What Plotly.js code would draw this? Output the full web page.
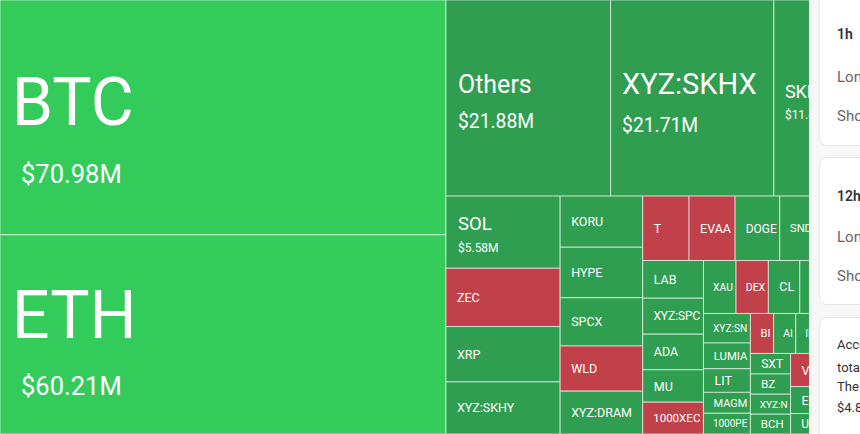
<!DOCTYPE html>
<html>
<head>
<meta charset="utf-8">
<script src="https://cdn.plot.ly/plotly-3.0.1.min.js"></script>
<style>
  html, body { margin:0; padding:0; background:#fff; overflow:hidden; }
  #wrap { position:relative; width:860px; height:434px; overflow:hidden; }
  #chart { position:absolute; left:0; top:0; width:860px; height:434px; }
  #side { position:absolute; left:809px; top:0; width:51px; height:434px; background:#f7f7f8; overflow:hidden; z-index:5; font-family:Roboto, "Noto Sans", sans-serif; }
  .card { position:absolute; left:10px; width:220px; background:#fff; border:1px solid #e8e8ea; border-radius:8px; }
  .t { position:absolute; left:17px; white-space:nowrap; line-height:1; }
  .h { font-size:14px; font-weight:600; color:#333; }
  .r { font-size:15px; color:#666; }
  .p { font-size:13px; color:#333; }
</style>
</head>
<body>
<div id="wrap">
  <div id="chart"></div>
  <div id="side">
    <div class="card" style="top:-12px;height:156px;">
      <div class="t h" style="top:38px;">1h</div>
      <div class="t r" style="top:81px;">Long</div>
      <div class="t r" style="top:120px;">Short</div>
    </div>
    <div class="card" style="top:157px;height:146px;">
      <div class="t h" style="top:31px;">12h</div>
      <div class="t r" style="top:72px;">Long</div>
      <div class="t r" style="top:111px;">Short</div>
    </div>
    <div class="card" style="top:317px;height:150px;">
      <div class="t p" style="top:20px;">Accumulated liquidations</div>
      <div class="t p" style="top:43px;">total in the past 24 hours.</div>
      <div class="t p" style="top:62px;">The largest single order:</div>
      <div class="t p" style="top:83px;">$4.8M</div>
    </div>
  </div>
</div>
<script>
// ---- data (liquidation totals, $M) ----
const labels = [
  "BTC","ETH","Others","XYZ:SKHX","SKHX",
  "SOL","ZEC","XRP","XYZ:SKHY",
  "KORU","HYPE","SPCX","WLD","XYZ:DRAM",
  "T","EVAA","DOGE","SNDK","SUI",
  "LAB","XYZ:SPC","ADA","MU","1000XEC",
  "XAU","DEX","CL","LINK","AVAX",
  "XYZ:SN","LUMIA","LIT","MAGM","1000PE",
  "BI","AI","IP","ENA","BNB",
  "SXT","BZ","XYZ:N","BCH",
  "V","TAO","PENGU",
  "E","U","APT","OP","ARB","TIA"
];
const values = [
  70.98,60.21,21.88,21.71,11.45,
  5.58,4.52,4.28,4.03,
  2.86,2.83,2.70,2.53,2.40,
  2.02,2.01,1.95,1.85,1.65,
  1.55,1.48,1.47,1.33,1.31,
  1.17,1.16,1.13,1.09,1.07,
  0.94,0.82,0.75,0.665,0.66,
  0.63,0.60,0.59,0.58,0.57,
  0.56,0.55,0.545,0.54,
  0.53,0.52,0.51,
  0.50,0.38,0.36,0.35,0.34,0.30
];
// dominant side: "big" = large long liquidations, "long", "short"
const sides = [
  "big","big","long","long","long",
  "long","short","long","long",
  "long","long","long","short","long",
  "short","short","long","long","long",
  "long","long","long","long","short",
  "long","short","long","long","long",
  "long","long","long","long","long",
  "short","long","long","long","long",
  "long","long","long","long",
  "short","long","long",
  "long","long","long","long","long","long"
];
const withValue = ["BTC","ETH","Others","XYZ:SKHX","SKHX","SOL"];
// tiles that sit fully under the side panel (no visible label)
const covered = ["SUI","LINK","AVAX","ENA","BNB","TAO","PENGU","APT","OP","ARB","TIA"];

// ---- styles ----
const sideColor = { big:"#33cc5b", long:"#2f9e50", short:"#c1414a" };
const textStyle = {
  "BTC":      {l:66,   v:25.5, base:45,   li:9,   vi:18, sh:9},
  "ETH":      {l:66,   v:25.5, base:44,   li:9,   vi:18, sh:5},
  "Others":   {l:25,   v:19.3, base:27.4, li:9,   vi:9,  sh:3.5},
  "XYZ:SKHX": {l:29,   v:19.3, base:29.2, li:8.5, vi:8.5, sh:3.5},
  "SKHX":     {l:18,   v:12,   base:16.7, li:8,   vi:8,  sh:3.5},
  "SOL":      {l:18.5, v:12,   base:17.2, li:9,   vi:9,  sh:2}
};
const defStyle = {l:12.5, base:12.5, li:8};

function indent(px, lineSize) {
  const w = 0.2476;
  const n = Math.max(1, Math.ceil(px / (w * lineSize)));
  const fs = px / (n * w);
  return '<span style="font-size:' + fs.toFixed(2) + 'px">' + '\u00a0'.repeat(n) + '</span>';
}
// a trailing blank on the first line that lifts the box top, so the block sits "sh" px lower
function lower(sh, lineSize) {
  const fs = lineSize + 2 * sh / 0.928;
  return '<span style="font-size:' + fs.toFixed(1) + 'px">\u00a0</span>';
}

const templates = labels.map(lab => {
  if (covered.indexOf(lab) >= 0) return '';
  const s = textStyle[lab] || defStyle;
  let t = indent(s.li, s.l) + '<span style="font-size:' + s.l + 'px">%{label}</span>';
  if (withValue.indexOf(lab) >= 0) {
    t += lower(s.sh, s.l) + '<br>' + indent(s.vi, s.v) + '<span style="font-size:' + s.v + 'px">$%{value:.2f}M</span>';
  }
  return t;
});
const baseSizes = labels.map(lab => (textStyle[lab] || defStyle).base);

const trace = {
  type: 'treemap',
  labels: labels,
  parents: labels.map(() => ''),
  values: values,
  sort: true,
  tiling: { packing: 'squarify', squarifyratio: 1.618034, pad: 0 },
  marker: {
    colors: sides.map(s => sideColor[s]),
    line: { width: 1, color: 'rgba(255,255,255,0.6)' },
    pad: { t: 0, l: 0, r: 0, b: 0 }
  },
  texttemplate: templates,
  textinfo: 'none',
  textposition: 'middle left',
  textfont: { family: 'Roboto', color: '#ffffff', size: baseSizes },
  pathbar: { visible: false },
  hoverinfo: 'skip',
  domain: { x: [0, 1], y: [0, 1] }
};

Plotly.newPlot('chart', [trace], {
  width: 860, height: 434,
  margin: { l: 0, r: 0, t: 0, b: 0 },
  paper_bgcolor: '#ffffff',
  showlegend: false
}, { displayModeBar: false, staticPlot: true });
</script>
</body>
</html>
